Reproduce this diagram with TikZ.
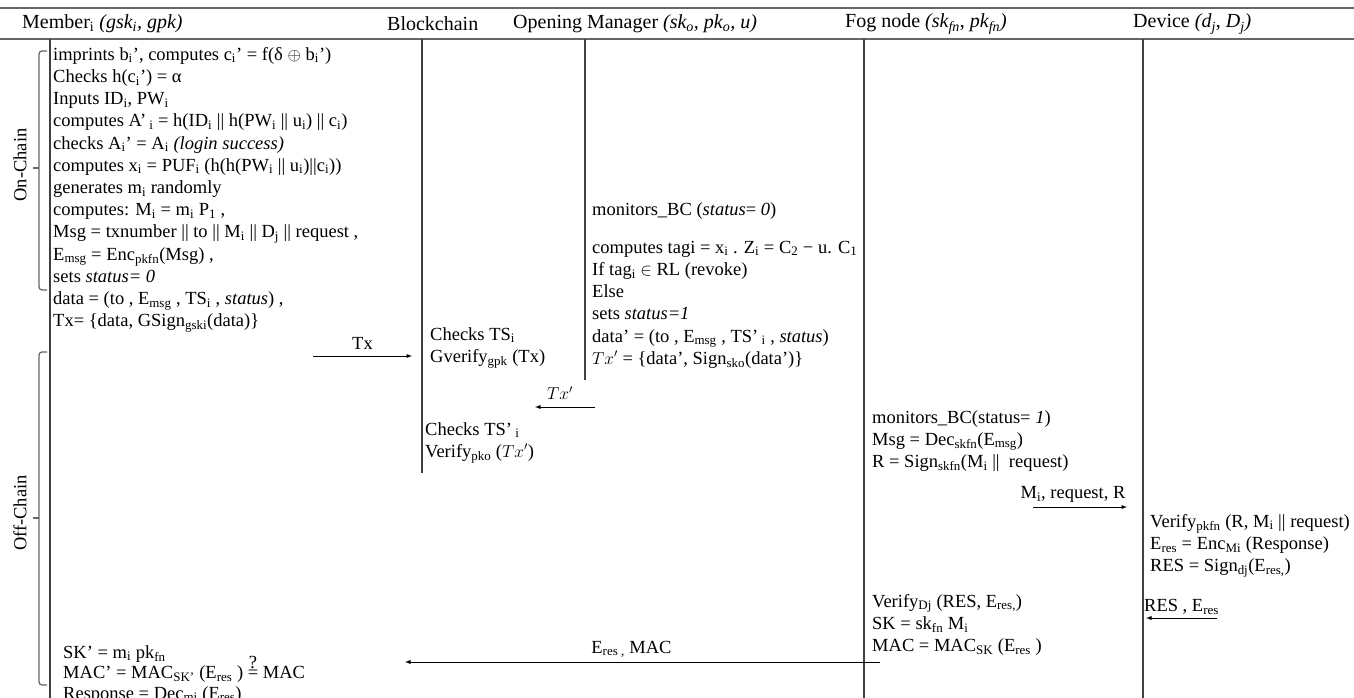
\documentclass[tikz,border=0pt]{standalone}
\usepackage{fontspec}
\setmainfont{Liberation Serif}
\usepackage{tikz}
\usetikzlibrary{positioning}
\usetikzlibrary{calc}

\newcommand{\lo}[1]{\textsubscript{#1}}

\begin{document}
\begin{tikzpicture}[
                x=1pt, y=-1pt,
                every node/.style={font=\fontsize{18.5}{22.2}\selectfont, inner sep=0pt},
                head/.style={anchor=west, font=\fontsize{20}{24}\selectfont},
                block/.style={anchor=north west, align=left},
                rule/.style={draw=black!60, line width=1.4pt},
                life/.style={draw=black!75, line width=1.2pt},
                msg/.style={->, >=latex, line width=0.9pt},
                brace/.style={draw=black!60, line width=1.2pt, rounded corners=3pt}
            ]
            \useasboundingbox (0,0) rectangle (1354,698);
            % Header
            \draw[rule] (0,8) -- (1354,8);
            \draw[rule] (0,39) -- (1354,39);
            \node[head] (member) at (22,24) {Member\lo{i} \textit{(gsk\lo{i}, gpk)}};
            \node[head] (chain) at (387,24) {Blockchain};
            \node[head] (opener) at (513,24) {Opening Manager \textit{(sk\lo{o}, pk\lo{o}, u)}};
            \node[head] (fog) at (845,24) {Fog node \textit{(sk\lo{fn}, pk\lo{fn})}};
            \node[head] (device) at (1133,24) {Device \textit{(d\lo{j}, D\lo{j})}};
            % Lifelines
            \coordinate (memtop) at (50,39);   \coordinate (membot) at (50,698);
            \coordinate (chaintop) at (422,39); \coordinate (chainbot) at (422,473);
            \coordinate (opentop) at (585,39);  \coordinate (openbot) at (585,380);
            \coordinate (fogtop) at (864,39);   \coordinate (fogbot) at (864,698);
            \coordinate (devtop) at (1143,39);  \coordinate (devbot) at (1143,698);
            \draw[life] (memtop) -- (membot);
            \draw[life] (chaintop) -- (chainbot);
            \draw[life] (opentop) -- (openbot);
            \draw[life] (fogtop) -- (fogbot);
            \draw[life] (devtop) -- (devbot);
            % Phases
            \draw[brace] (47,51) -- (39,51) -- (39,290) -- (47,290);
            \draw[brace] (39,168) -- (33,168);
            \node[rotate=90] (onchain) at (20,165) {On-Chain};
            \draw[brace] (47,352) -- (39,352) -- (39,685) -- (47,685);
            \draw[brace] (39,518) -- (33,518);
            \node[rotate=90] (offchain) at (20,513) {Off-Chain};
            % Nodes
            \node[block] (login) at (53,47) {imprints b\lo{i}’, computes c\lo{i}’ = f(δ $\oplus$ b\lo{i}’)\\
                Checks h(c\lo{i}’) = α\\
                Inputs ID\lo{i}, PW\lo{i}\\
                computes A’\lo{ i} = h(ID\lo{i} || h(PW\lo{i} || u\lo{i}) || c\lo{i})\\
                checks A\lo{i}’ = A\lo{i} \textit{(login success)}\\
                computes x\lo{i} = PUF\lo{i} (h(h(PW\lo{i} || u\lo{i})||c\lo{i}))\\
                generates m\lo{i} randomly\\
                computes: M\lo{i} = m\lo{i} P\lo{1} ,\\
                Msg = txnumber || to || M\lo{i} || D\lo{j} || request ,\\
                E\lo{msg} = Enc\lo{pkfn}(Msg) ,\\
                sets \textit{status= 0}\\
                data = (to , E\lo{msg} , TS\lo{i} , \textit{status}) ,\\
                Tx= \{data, GSign\lo{gski}(data)\}};
            \node[block] (gverify) at (430,327) {Checks TS\lo{i}\\ Gverify\lo{gpk} (Tx)};
            \node[block] (verify) at (425,422) {Checks TS’\lo{ i}\\ Verify\lo{pko} ($Tx'$)};
            \node[block] (monitor) at (592,202) {monitors\_BC (\textit{status}= \textit{0})\\[16pt]
                computes tagi = x\lo{i} . Z\lo{i} = C\lo{2} − u. C\lo{1}\\
                If tag\lo{i} $\in$ RL (revoke)\\
                Else\\
                sets \textit{status=1}\\
                data’ = (to , E\lo{msg} , TS’\lo{ i} , \textit{status})\\
                $Tx'$ = \{data’, Sign\lo{sko}(data’)\}};
            \node[block] (decrypt) at (872,410) {monitors\_BC(status= \textit{1})\\
                Msg = Dec\lo{skfn}(E\lo{msg})\\
                R = Sign\lo{skfn}(M\lo{i} ||\ \ request)};
            \node[block] (respond) at (1150,514) {Verify\lo{pkfn} (R, M\lo{i} || request)\\
                E\lo{res} = Enc\lo{Mi} (Response)\\
                RES = Sign\lo{dj}(E\lo{res,})};
            \node[block] (mac) at (872,594) {Verify\lo{Dj} (RES, E\lo{res,})\\
                SK = sk\lo{fn} M\lo{i}\\
                MAC = MAC\lo{SK} (E\lo{res} )};
            \node[block, font=\fontsize{18.5}{20.5}\selectfont] (check) at (63,645) {SK’ = m\lo{i} pk\lo{fn}\\
                MAC’ = MAC\lo{SK’} (E\lo{res} ) \smash{$\stackrel{\mbox{?}}{\mbox{=}}$} MAC\\
                Response = Dec\lo{mi} (E\lo{res})};
            % Arrows
            \coordinate (txs) at (313,356);   \coordinate (txe) at (412,356);
            \coordinate (txps) at (595,407);  \coordinate (txpe) at (535,407);
            \coordinate (reqs) at (1033,507); \coordinate (reqe) at (1127,507);
            \coordinate (ress) at (1217,618); \coordinate (rese) at (1146,618);
            \coordinate (macs) at (880,662);  \coordinate (mace) at (405,662);
            \draw[msg] (txs) -- (txe);
            \draw[msg] (txps) -- (txpe);
            \draw[msg] (reqs) -- (reqe);
            \draw[msg] (ress) -- (rese);
            \draw[msg] (macs) -- (mace);
            \node[above=6pt of $(txs)!0.5!(txe)$] (txlbl) {Tx};
            \node[above=7pt of $(txps)!0.5!(txpe)$, xshift=-5pt] (txplbl) {$Tx'$};
            \node[above=4pt of $(reqs)!0.5!(reqe)$, xshift=-7pt] (reqlbl) {M\lo{i}, request, R};
            \node[above=3pt of $(ress)!0.5!(rese)$] (reslbl) {RES , E\lo{res}};
            \node[above=4pt of $(macs)!0.5!(mace)$, xshift=-11pt] (maclbl) {E\lo{res ,} MAC};
            
            \end{tikzpicture}
\end{document}
